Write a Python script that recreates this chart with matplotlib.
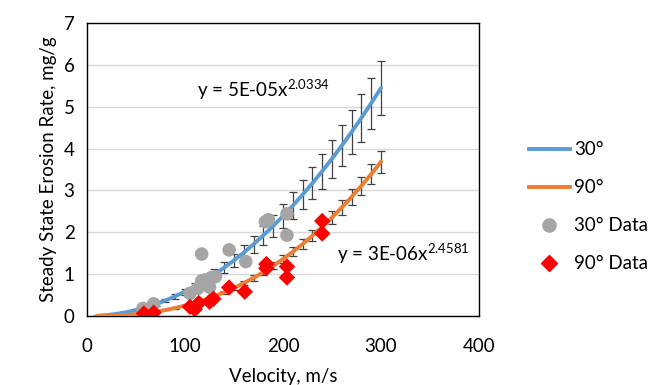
import matplotlib
matplotlib.use("Agg")
import matplotlib.pyplot as plt
from matplotlib.lines import Line2D

plt.rcParams['font.family'] = ['Lato', 'DejaVu Sans']

# fitted curves (power law), every 10 m/s
vel_fit = [10, 20, 30, 40, 50, 60, 70, 80, 90, 100, 110, 120, 130, 140, 150,
           160, 170, 180, 190, 200, 210, 220, 230, 240, 250, 260, 270, 280, 290, 300]
fit_30 = [0.005, 0.022, 0.050, 0.091, 0.143, 0.207, 0.282, 0.371, 0.471, 0.583,
          0.708, 0.845, 0.995, 1.156, 1.330, 1.517, 1.716, 1.928, 2.152, 2.388,
          2.637, 2.899, 3.173, 3.460, 3.759, 4.071, 4.396, 4.734, 5.084, 5.447]
err_30 = [0.001, 0.003, 0.006, 0.011, 0.017, 0.025, 0.034, 0.045, 0.057, 0.070,
          0.085, 0.101, 0.119, 0.139, 0.160, 0.182, 0.206, 0.231, 0.258, 0.287,
          0.316, 0.348, 0.381, 0.415, 0.451, 0.489, 0.528, 0.568, 0.610, 0.654]
fit_90 = [0.001, 0.005, 0.013, 0.026, 0.045, 0.071, 0.103, 0.143, 0.191, 0.250,
          0.313, 0.387, 0.472, 0.566, 0.671, 0.786, 0.912, 1.050, 1.199, 1.361,
          1.534, 1.720, 1.919, 2.130, 2.354, 2.593, 2.845, 3.111, 3.391, 3.684]
err_90 = [0.000, 0.000, 0.001, 0.002, 0.003, 0.005, 0.007, 0.010, 0.013, 0.018,
          0.022, 0.027, 0.033, 0.040, 0.047, 0.055, 0.064, 0.074, 0.084, 0.095,
          0.107, 0.120, 0.134, 0.149, 0.165, 0.182, 0.199, 0.218, 0.237, 0.258]

# measured points
vel_30 = [57, 68, 105, 113, 117, 117, 120, 125, 127, 131, 145, 162, 182, 185, 204, 204]
rate_30 = [0.18, 0.29, 0.54, 0.66, 0.84, 1.48, 0.86, 0.69, 0.92, 0.94, 1.58, 1.30, 2.25, 2.30, 2.44, 1.93]
vel_90 = [58, 68, 105, 110, 114, 125, 129, 145, 161, 183, 183, 204, 204, 240, 240]
rate_90 = [0.06, 0.08, 0.22, 0.16, 0.31, 0.34, 0.41, 0.68, 0.58, 1.24, 1.14, 1.18, 0.92, 2.27, 1.97]

eq_30 = r'y = 5E-05x$^{\mathregular{2.0334}}$'
eq_90 = r'y = 3E-06x$^{\mathregular{2.4581}}$'

blue = '#5B9BD5'
orange = '#ED7D31'
grey = '#A5A5A5'
fs = 13.5

fig = plt.figure(figsize=(6.71, 3.85), dpi=100)
ax = fig.add_axes([0.1297, 0.1792, 0.5842, 0.7611])

ax.errorbar(vel_fit, fit_30, yerr=err_30, fmt='none', ecolor='#404040',
            elinewidth=0.9, capsize=3.0, capthick=0.9, zorder=2)
ax.errorbar(vel_fit, fit_90, yerr=err_90, fmt='none', ecolor='#404040',
            elinewidth=0.9, capsize=3.0, capthick=0.9, zorder=2)
ax.plot(vel_fit, fit_30, color=blue, lw=2.8, zorder=3, solid_capstyle='round')
ax.plot(vel_fit, fit_90, color=orange, lw=2.8, zorder=3, solid_capstyle='round')
ax.scatter(vel_30, rate_30, s=95, color=grey, edgecolors='none', zorder=4)
ax.scatter(vel_90, rate_90, s=70, marker='D', color='#FF0000', edgecolors='none', zorder=5)

ax.text(112, 5.4, eq_30, fontsize=fs, va='center', ha='left')
ax.text(255, 1.5, eq_90, fontsize=fs, va='center', ha='left')

ax.set_xlim(0, 400)
ax.set_ylim(0, 7)
ax.set_xticks(range(0, 401, 100))
ax.set_yticks(range(0, 8))
ax.tick_params(length=0, labelsize=fs, pad=9)
ax.tick_params(axis='x', pad=16)
ax.grid(axis='y', color='#D9D9D9', lw=1)
ax.set_axisbelow(True)
for s in ax.spines.values():
    s.set_color('black')
    s.set_linewidth(1)

ax.set_xlabel('Velocity, m/s', fontsize=fs, labelpad=9)
ax.set_ylabel('Steady State Erosion Rate, mg/g', fontsize=fs, labelpad=5)

handles = [
    Line2D([], [], color=blue, lw=2.8),
    Line2D([], [], color=orange, lw=2.8),
    Line2D([], [], ls='none', marker='o', color=grey, markersize=9.5),
    Line2D([], [], ls='none', marker='D', color='#FF0000', markersize=8),
]
labels = ['30°', '90°', '30° Data', '90° Data']
fig.legend(handles, labels, loc='center left', bbox_to_anchor=(0.763, 0.463),
           frameon=False, fontsize=fs, handlelength=2.2, handletextpad=0.2,
           labelspacing=1.12)

fig.savefig('out.png', dpi=100)
